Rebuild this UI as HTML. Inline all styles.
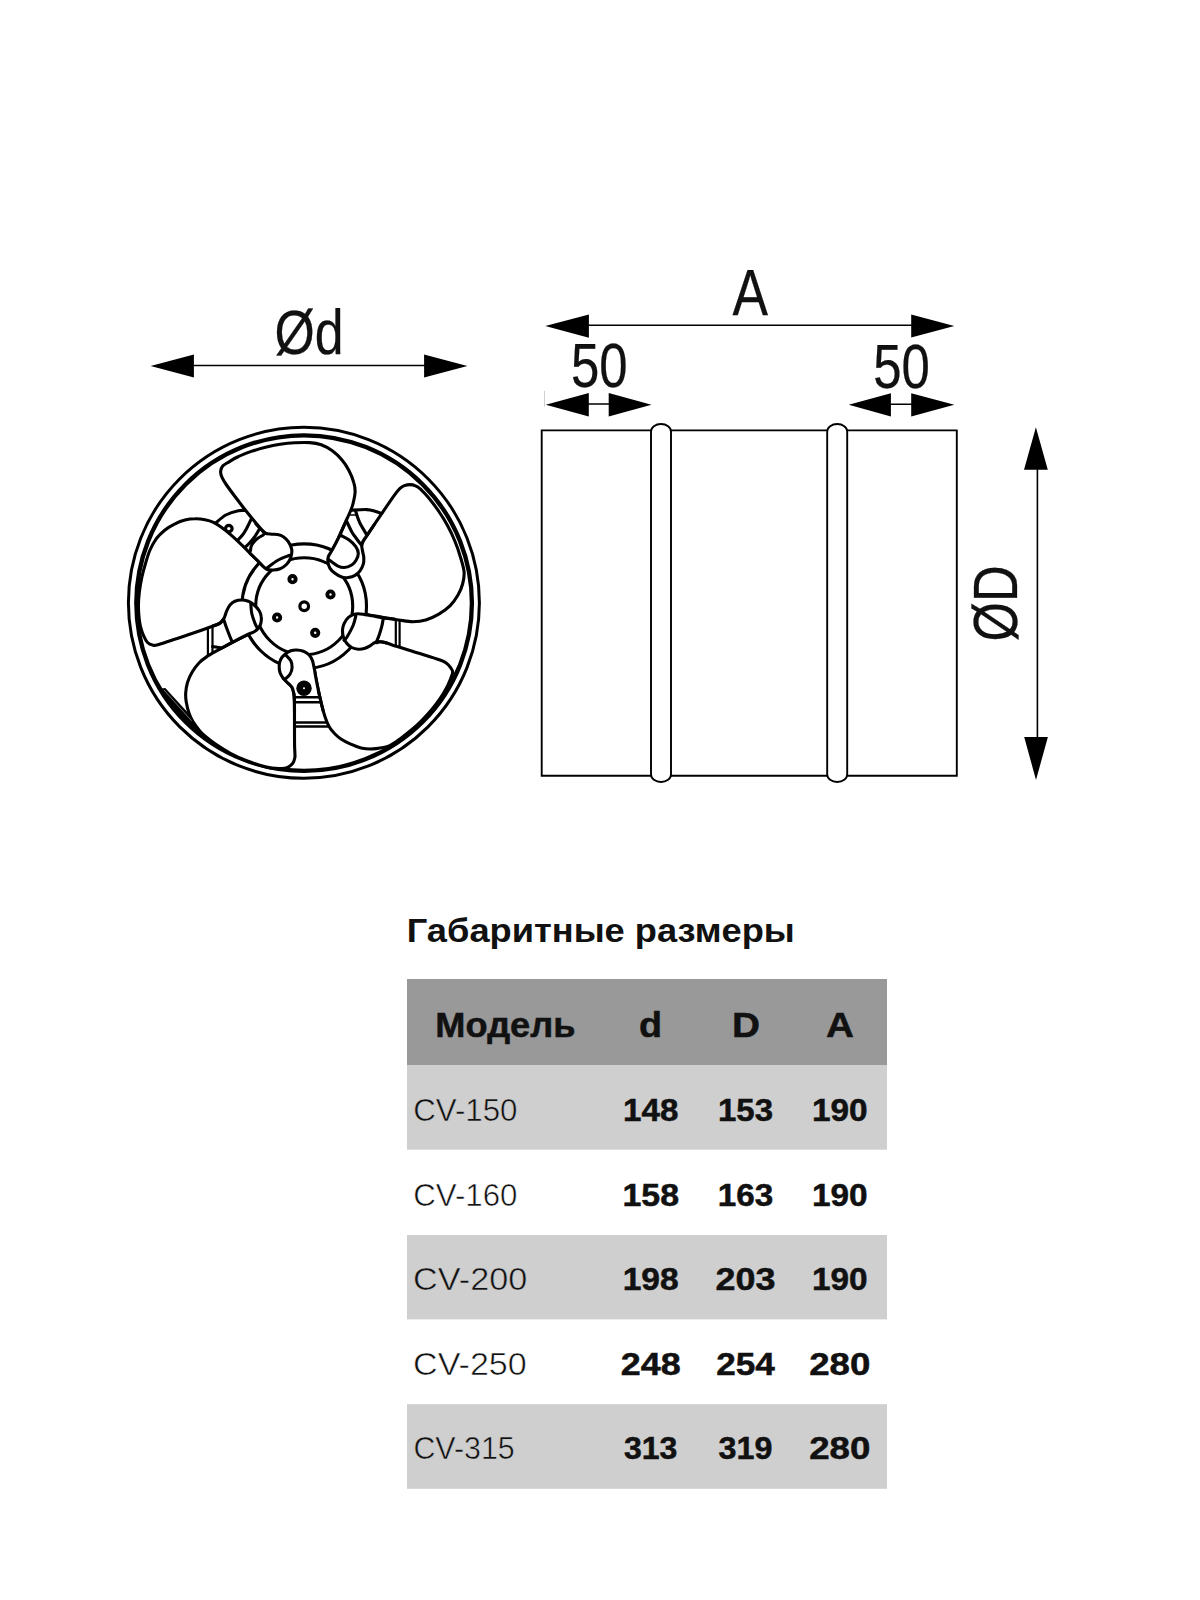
<!DOCTYPE html>
<html><head><meta charset="utf-8">
<style>
html,body{margin:0;padding:0;background:#fff;}
body{width:1200px;height:1600px;overflow:hidden;position:relative;font-family:"Liberation Sans",sans-serif;}
svg{position:absolute;left:0;top:0;}
text{font-family:"Liberation Sans",sans-serif;fill:#111;}
.dim{font-size:63px;fill:#000;stroke:#000;stroke-width:0.25px;}
.b{font-weight:bold;}
</style></head><body>
<svg width="1200" height="1600" viewBox="0 0 1200 1600">
<rect width="1200" height="1600" fill="#fff"/>
<!-- TABLE -->
<g id="table">
<rect x="407" y="979" width="480" height="86" fill="#999"/>
<rect x="407" y="1065.0" width="480" height="84.7" fill="#cfcfcf"/>
<rect x="407" y="1235.0" width="480" height="84.4" fill="#cfcfcf"/>
<rect x="407" y="1404.2" width="480" height="84.6" fill="#cfcfcf"/>
<text class="b" x="406.8" y="941.5" font-size="32.5" textLength="388" lengthAdjust="spacingAndGlyphs">Габаритные размеры</text>
<g class="b" font-size="34.3" text-anchor="middle" stroke="#111" stroke-width="0.5">
<text transform="translate(505.4 1037) scale(1.055 1)">Модель</text>
<text transform="translate(650.5 1037) scale(1.100 1)">d</text>
<text transform="translate(745.9 1037) scale(1.130 1)">D</text>
<text transform="translate(840.1 1037) scale(1.130 1)">A</text>
</g>
<g font-size="31.3">
<text transform="translate(413.3 1120.7) scale(0.998 1)" stroke="#cfcfcf" stroke-width="0.55">CV-150</text>
<text transform="translate(413.3 1205.6) scale(0.998 1)" stroke="#fff" stroke-width="0.55">CV-160</text>
<text transform="translate(413.1 1290.2) scale(1.094 1)" stroke="#cfcfcf" stroke-width="0.55">CV-200</text>
<text transform="translate(413.1 1374.8) scale(1.089 1)" stroke="#fff" stroke-width="0.55">CV-250</text>
<text transform="translate(413.4 1459.4) scale(0.970 1)" stroke="#cfcfcf" stroke-width="0.55">CV-315</text>
</g>
<g class="b" font-size="31.2" text-anchor="middle" stroke="#111" stroke-width="0.5">
<text transform="translate(650.7 1120.7) scale(1.061 1)">148</text>
<text transform="translate(745.5 1120.7) scale(1.056 1)">153</text>
<text transform="translate(839.8 1120.7) scale(1.071 1)">190</text>
<text transform="translate(650.7 1205.6) scale(1.087 1)">158</text>
<text transform="translate(745.5 1205.6) scale(1.066 1)">163</text>
<text transform="translate(839.8 1205.6) scale(1.071 1)">190</text>
<text transform="translate(650.7 1290.2) scale(1.077 1)">198</text>
<text transform="translate(745.5 1290.2) scale(1.150 1)">203</text>
<text transform="translate(839.8 1290.2) scale(1.071 1)">190</text>
<text transform="translate(650.7 1374.8) scale(1.150 1)">248</text>
<text transform="translate(745.5 1374.8) scale(1.127 1)">254</text>
<text transform="translate(839.8 1374.8) scale(1.175 1)">280</text>
<text transform="translate(650.7 1459.4) scale(1.025 1)">313</text>
<text transform="translate(745.5 1459.4) scale(1.035 1)">319</text>
<text transform="translate(839.8 1459.4) scale(1.175 1)">280</text>
</g>
</g>
<!-- SIDE VIEW -->
<g id="side" fill="none" stroke="#000" stroke-width="1.9">
<path d="M651 430.4H541.7V775.8H651 M671 430.4H827.2 M671 775.8H827.2 M847.2 430.4H956.8V775.8H847.2"/>
<path d="M651 774.5V431.5A10 7.5 0 0 1 671 431.5V774.5A10 7.5 0 0 1 651 774.5Z" fill="#fff"/>
<path d="M827.2 774.5V431.5A10 7.5 0 0 1 847.2 431.5V774.5A10 7.5 0 0 1 827.2 774.5Z" fill="#fff"/>
</g>
<!-- DIMENSIONS -->
<g id="dims" stroke="#000" stroke-width="1.6" fill="#000">
<path d="M190 365.5H428 M585 325.2H915 M585 404H612 M888 404.2H915 M1037.4 465V741" fill="none"/>
<g stroke="none">
<path d="M150.6 366L193.9 354.4V377.6Z M467.4 366L424.1 354.4V377.6Z"/>
<path d="M545.3 326.1L588.9 314.4V337.8Z M954.3 326L911.2 314.4V337.6Z"/>
<path d="M545.8 404.8L588.8 393.1V416.5Z M651.5 404.8L608.7 393.1V416.5Z"/>
<path d="M848.7 404.8L890.9 393.2V416.4Z M954.3 404.8L911.2 393.2V416.4Z"/>
<path d="M1035.9 427.3L1024 469.8H1047.8Z M1036 779.9L1024.2 737.1H1047.9Z"/>
</g>
</g>
<path d="M544.5 390.8V406.5" stroke="#c4c4c4" stroke-width="0.8"/>
<g class="dim">
<text x="274.6" y="354" textLength="69" lengthAdjust="spacingAndGlyphs">Ød</text>
<text x="732.4" y="314.8" font-size="65.5" textLength="35.5" lengthAdjust="spacingAndGlyphs">A</text>
<text x="571" y="387.2" textLength="56.6" lengthAdjust="spacingAndGlyphs">50</text>
<text x="873.3" y="387.5" textLength="56.6" lengthAdjust="spacingAndGlyphs">50</text>
<text transform="translate(1016.5 641.5) rotate(-90)" textLength="76" lengthAdjust="spacingAndGlyphs">ØD</text>
</g>
<!-- FAN -->
<g id="fan" fill="none" stroke="#000" stroke-width="3.1" stroke-linecap="round" stroke-linejoin="round">
<g id="back">
<path d="M213.0 526.0C213.4 525.5 213.3 525.1 215.4 523.3C217.5 521.5 222.0 517.1 225.8 515.0C229.6 512.9 234.8 511.4 238.3 510.7C241.8 510.0 245.6 510.6 247.0 510.6"/>
<circle cx="228.8" cy="528.6" r="3.3" stroke-width="3.2"/>
<path d="M252.0 517.5C251.1 519.3 248.3 525.4 246.7 528.3C245.1 531.2 244.3 532.7 242.5 535.0C240.7 537.3 237.1 540.8 236.0 542.0"/>
<path d="M260.0 528.0C259.0 529.6 255.9 535.1 254.2 537.5C252.5 539.9 251.8 540.6 250.0 542.5C248.2 544.4 244.6 547.9 243.5 549.0"/>
<path d="M349.0 510.3C351.9 510.2 362.4 509.4 366.7 509.6C371.0 509.8 372.1 510.4 375.0 511.2C377.9 512.1 382.5 514.0 384.0 514.5"/>
<path d="M395.8 616V650 M399.6 616V650" stroke-width="2.2"/><path d="M350.5 515H355.8" stroke-width="1.6"/>
<path d="M207.9 622V656 M212.5 622V654" stroke-width="2.2"/>
<path d="M212.5 646.5L222 648"/>
<path d="M293 697.3H322 M293 702.3H322 M293 722.5H330 M293 726.5H330" stroke-width="2.6"/>
</g>
<circle cx="303.9" cy="602.8" r="175.5" stroke-width="3"/>
<circle cx="304.1" cy="603.1" r="167.8" stroke-width="4.3"/>
<g id="blades">
<path d="M267.3 534.1C266.4 533.4 265.0 533.3 261.7 529.8C258.4 526.2 251.7 518.0 247.5 512.8C243.3 507.6 240.1 503.2 236.5 498.5C232.9 493.8 228.6 488.0 226.2 484.5C223.8 481.0 222.9 479.5 222.0 477.4C221.1 475.3 220.5 473.6 220.6 471.7C220.7 469.8 221.3 467.8 222.7 466.1C224.1 464.5 226.6 463.3 229.1 461.8C231.6 460.3 233.8 458.7 237.5 457.0C241.2 455.2 246.6 453.1 251.3 451.4C256.0 449.8 260.7 448.4 265.5 447.2C270.3 446.0 275.2 445.0 280.1 444.3C285.0 443.6 289.9 443.1 294.9 442.8C299.8 442.5 305.3 442.3 309.7 442.6C314.1 442.9 317.4 443.4 321.2 444.8C325.0 446.2 328.9 448.3 332.3 450.8C335.7 453.3 339.1 456.5 341.8 459.7C344.6 462.9 346.8 466.4 348.8 470.2C350.8 474.0 352.8 479.0 353.8 482.6C354.9 486.2 355.2 488.6 355.1 492.0C355.0 495.4 353.9 500.0 353.2 503.0C352.5 506.0 352.3 506.6 350.9 510.0C349.5 513.4 347.1 518.6 345.0 523.3C342.9 528.0 340.5 533.7 338.3 538.3C336.1 542.9 332.8 548.7 331.7 550.8L304.2 606.2Z" fill="#fff" stroke="none"/>
<path d="M267.3 534.1C266.4 533.4 265.0 533.3 261.7 529.8C258.4 526.2 251.7 518.0 247.5 512.8C243.3 507.6 240.1 503.2 236.5 498.5C232.9 493.8 228.6 488.0 226.2 484.5C223.8 481.0 222.9 479.5 222.0 477.4C221.1 475.3 220.5 473.6 220.6 471.7C220.7 469.8 221.3 467.8 222.7 466.1C224.1 464.5 226.6 463.3 229.1 461.8C231.6 460.3 233.8 458.7 237.5 457.0C241.2 455.2 246.6 453.1 251.3 451.4C256.0 449.8 260.7 448.4 265.5 447.2C270.3 446.0 275.2 445.0 280.1 444.3C285.0 443.6 289.9 443.1 294.9 442.8C299.8 442.5 305.3 442.3 309.7 442.6C314.1 442.9 317.4 443.4 321.2 444.8C325.0 446.2 328.9 448.3 332.3 450.8C335.7 453.3 339.1 456.5 341.8 459.7C344.6 462.9 346.8 466.4 348.8 470.2C350.8 474.0 352.8 479.0 353.8 482.6C354.9 486.2 355.2 488.6 355.1 492.0C355.0 495.4 353.9 500.0 353.2 503.0C352.5 506.0 352.3 506.6 350.9 510.0C349.5 513.4 347.1 518.6 345.0 523.3C342.9 528.0 340.5 533.7 338.3 538.3C336.1 542.9 332.8 548.7 331.7 550.8"/>
<path d="M361.7 545.0C362.0 544.3 362.5 542.3 363.3 540.8C364.1 539.3 363.6 540.3 366.7 535.8C369.8 531.3 377.0 520.5 381.7 513.6C386.4 506.7 391.9 498.6 395.0 494.4C398.1 490.2 398.4 489.9 400.0 488.4C401.6 486.9 402.7 486.2 404.4 485.6C406.1 485.0 408.1 484.6 410.0 484.6C411.9 484.6 413.8 485.0 415.5 485.8C417.2 486.6 418.3 487.1 420.5 489.2C422.7 491.3 425.9 494.6 429.0 498.3C432.0 502.0 435.8 506.9 438.9 511.5C442.0 516.0 444.9 520.7 447.5 525.6C450.1 530.4 452.5 535.4 454.6 540.5C456.7 545.5 458.6 550.7 460.1 556.0C461.7 561.2 463.7 567.3 464.1 572.0C464.5 576.7 463.6 580.2 462.6 584.0C461.6 587.8 460.1 591.4 458.0 595.0C455.9 598.6 453.4 602.4 450.2 605.6C447.0 608.8 442.9 611.7 438.8 614.1C434.7 616.5 430.1 618.7 425.8 620.0C421.5 621.3 417.3 621.7 412.8 621.7C408.3 621.7 403.8 620.7 398.7 620.0C393.6 619.3 387.9 618.2 382.5 617.3C377.1 616.4 370.5 615.2 366.2 614.6C361.9 614.0 358.1 613.7 356.5 613.5L304.2 606.2Z" fill="#fff" stroke="none"/>
<path d="M361.7 545.0C362.0 544.3 362.5 542.3 363.3 540.8C364.1 539.3 363.6 540.3 366.7 535.8C369.8 531.3 377.0 520.5 381.7 513.6C386.4 506.7 391.9 498.6 395.0 494.4C398.1 490.2 398.4 489.9 400.0 488.4C401.6 486.9 402.7 486.2 404.4 485.6C406.1 485.0 408.1 484.6 410.0 484.6C411.9 484.6 413.8 485.0 415.5 485.8C417.2 486.6 418.3 487.1 420.5 489.2C422.7 491.3 425.9 494.6 429.0 498.3C432.0 502.0 435.8 506.9 438.9 511.5C442.0 516.0 444.9 520.7 447.5 525.6C450.1 530.4 452.5 535.4 454.6 540.5C456.7 545.5 458.6 550.7 460.1 556.0C461.7 561.2 463.7 567.3 464.1 572.0C464.5 576.7 463.6 580.2 462.6 584.0C461.6 587.8 460.1 591.4 458.0 595.0C455.9 598.6 453.4 602.4 450.2 605.6C447.0 608.8 442.9 611.7 438.8 614.1C434.7 616.5 430.1 618.7 425.8 620.0C421.5 621.3 417.3 621.7 412.8 621.7C408.3 621.7 403.8 620.7 398.7 620.0C393.6 619.3 387.9 618.2 382.5 617.3C377.1 616.4 370.5 615.2 366.2 614.6C361.9 614.0 358.1 613.7 356.5 613.5"/>
<path d="M376.5 642.7C377.1 642.5 378.3 641.7 380.0 641.7C381.7 641.7 384.0 642.1 386.7 642.9C389.4 643.7 391.1 644.6 396.3 646.3C401.5 648.0 410.7 650.7 418.0 653.0C425.3 655.3 435.2 658.3 440.0 660.0C444.8 661.7 444.8 662.0 446.5 663.2C448.2 664.4 449.4 665.9 450.4 667.4C451.4 668.9 452.7 670.1 452.7 672.1C452.7 674.0 451.4 676.5 450.4 679.2C449.3 682.0 447.9 685.3 446.2 688.5C444.5 691.7 442.6 694.9 440.2 698.4C437.8 701.9 434.8 705.9 431.8 709.5C428.8 713.0 425.7 716.5 422.4 719.8C419.2 723.1 415.8 726.3 412.3 729.3C408.7 732.3 405.1 735.2 401.3 737.9C397.6 740.6 393.9 743.8 389.7 745.6C385.5 747.3 380.6 748.1 376.0 748.6C371.4 749.1 366.7 749.1 362.3 748.3C357.9 747.5 353.2 745.1 349.6 743.6C346.1 742.1 343.4 740.6 341.0 739.0C338.6 737.4 337.0 736.0 335.0 734.0C333.0 732.0 330.9 729.6 329.2 726.7C327.5 723.8 326.2 720.3 325.0 716.7C323.8 713.1 322.8 709.5 321.7 705.0C320.6 700.5 319.3 694.6 318.3 690.0C317.3 685.4 316.5 681.1 315.8 677.5C315.1 673.9 314.7 670.9 314.2 668.3C313.7 665.7 313.1 663.0 312.9 662.0L304.2 606.2Z" fill="#fff" stroke="none"/>
<path d="M376.5 642.7C377.1 642.5 378.3 641.7 380.0 641.7C381.7 641.7 384.0 642.1 386.7 642.9C389.4 643.7 391.1 644.6 396.3 646.3C401.5 648.0 410.7 650.7 418.0 653.0C425.3 655.3 435.2 658.3 440.0 660.0C444.8 661.7 444.8 662.0 446.5 663.2C448.2 664.4 449.4 665.9 450.4 667.4C451.4 668.9 452.7 670.1 452.7 672.1C452.7 674.0 451.4 676.5 450.4 679.2C449.3 682.0 447.9 685.3 446.2 688.5C444.5 691.7 442.6 694.9 440.2 698.4C437.8 701.9 434.8 705.9 431.8 709.5C428.8 713.0 425.7 716.5 422.4 719.8C419.2 723.1 415.8 726.3 412.3 729.3C408.7 732.3 405.1 735.2 401.3 737.9C397.6 740.6 393.9 743.8 389.7 745.6C385.5 747.3 380.6 748.1 376.0 748.6C371.4 749.1 366.7 749.1 362.3 748.3C357.9 747.5 353.2 745.1 349.6 743.6C346.1 742.1 343.4 740.6 341.0 739.0C338.6 737.4 337.0 736.0 335.0 734.0C333.0 732.0 330.9 729.6 329.2 726.7C327.5 723.8 326.2 720.3 325.0 716.7C323.8 713.1 322.8 709.5 321.7 705.0C320.6 700.5 319.3 694.6 318.3 690.0C317.3 685.4 316.5 681.1 315.8 677.5C315.1 673.9 314.7 670.9 314.2 668.3C313.7 665.7 313.1 663.0 312.9 662.0"/>
<path d="M283.3 678.3C284.1 679.1 286.8 681.8 288.3 683.3C289.8 684.8 291.2 685.8 292.1 687.5C293.0 689.2 293.4 691.0 293.8 693.3C294.1 695.5 294.3 696.0 294.4 701.0C294.5 706.0 294.5 715.8 294.5 723.3C294.5 730.8 294.5 741.0 294.6 746.0C294.7 751.0 294.9 751.0 294.9 753.0C294.9 755.0 295.2 756.2 294.8 758.0C294.4 759.8 293.8 762.0 292.6 763.5C291.4 765.0 289.4 766.5 287.6 767.3C285.8 768.1 284.6 768.4 282.0 768.5C279.4 768.6 275.6 768.6 272.0 768.1C268.5 767.6 264.8 766.8 260.6 765.6C256.3 764.3 251.7 762.8 246.7 760.8C241.7 758.8 235.9 756.2 230.8 753.5C225.6 750.7 220.2 747.4 215.8 744.4C211.4 741.4 207.1 737.9 204.3 735.5C201.5 733.2 201.0 732.5 199.2 730.3C197.4 728.1 195.0 724.9 193.3 722.2C191.7 719.5 190.5 717.3 189.3 714.0C188.1 710.7 186.9 705.8 186.3 702.3C185.7 698.8 185.5 696.3 185.7 693.0C185.9 689.7 186.4 686.0 187.5 682.5C188.6 679.0 190.2 675.3 192.2 672.0C194.1 668.7 196.7 665.3 199.2 662.7C201.7 660.1 204.8 658.0 207.3 656.3C209.8 654.5 210.0 654.6 214.3 652.2C218.6 649.8 227.9 644.8 233.3 641.9C238.7 639.0 243.6 636.5 246.7 635.0C249.8 633.5 250.9 633.3 251.7 633.0L304.2 606.2Z" fill="#fff" stroke="none"/>
<path d="M283.3 678.3C284.1 679.1 286.8 681.8 288.3 683.3C289.8 684.8 291.2 685.8 292.1 687.5C293.0 689.2 293.4 691.0 293.8 693.3C294.1 695.5 294.3 696.0 294.4 701.0C294.5 706.0 294.5 715.8 294.5 723.3C294.5 730.8 294.5 741.0 294.6 746.0C294.7 751.0 294.9 751.0 294.9 753.0C294.9 755.0 295.2 756.2 294.8 758.0C294.4 759.8 293.8 762.0 292.6 763.5C291.4 765.0 289.4 766.5 287.6 767.3C285.8 768.1 284.6 768.4 282.0 768.5C279.4 768.6 275.6 768.6 272.0 768.1C268.5 767.6 264.8 766.8 260.6 765.6C256.3 764.3 251.7 762.8 246.7 760.8C241.7 758.8 235.9 756.2 230.8 753.5C225.6 750.7 220.2 747.4 215.8 744.4C211.4 741.4 207.1 737.9 204.3 735.5C201.5 733.2 201.0 732.5 199.2 730.3C197.4 728.1 195.0 724.9 193.3 722.2C191.7 719.5 190.5 717.3 189.3 714.0C188.1 710.7 186.9 705.8 186.3 702.3C185.7 698.8 185.5 696.3 185.7 693.0C185.9 689.7 186.4 686.0 187.5 682.5C188.6 679.0 190.2 675.3 192.2 672.0C194.1 668.7 196.7 665.3 199.2 662.7C201.7 660.1 204.8 658.0 207.3 656.3C209.8 654.5 210.0 654.6 214.3 652.2C218.6 649.8 227.9 644.8 233.3 641.9C238.7 639.0 243.6 636.5 246.7 635.0C249.8 633.5 250.9 633.3 251.7 633.0"/>
<path d="M223.8 618.8C223.1 619.5 221.9 621.9 220.0 623.1C218.1 624.4 217.9 624.3 212.5 626.2C207.1 628.2 196.5 632.0 187.5 635.0C178.5 638.0 164.6 642.7 158.8 644.4C152.9 646.1 154.4 645.3 152.5 645.0C150.6 644.7 149.0 644.0 147.5 642.5C146.0 641.0 144.9 638.7 143.8 636.2C142.6 633.8 141.5 630.4 140.7 627.5C140.0 624.6 139.5 622.6 139.2 619.0C138.8 615.4 138.4 610.6 138.4 606.0C138.5 601.4 138.8 596.3 139.4 591.6C140.0 586.8 140.8 582.1 141.8 577.4C142.8 572.7 144.1 568.1 145.5 563.5C146.8 559.0 148.2 554.1 150.0 550.0C151.8 545.9 153.8 542.1 156.2 538.8C158.8 535.4 161.9 532.5 165.0 530.0C168.1 527.5 171.7 525.4 175.0 523.8C178.3 522.1 181.7 520.8 185.0 520.0C188.3 519.2 191.7 518.8 195.0 518.8C198.3 518.7 201.9 519.1 205.0 519.7C208.1 520.3 210.7 521.0 213.5 522.3C216.3 523.6 218.9 525.4 221.7 527.4C224.4 529.4 227.2 531.7 230.0 534.1C232.8 536.5 235.8 539.2 238.3 541.6C240.8 544.0 241.7 544.9 245.0 548.2C248.3 551.5 256.1 559.2 258.3 561.4L304.2 606.2Z" fill="#fff" stroke="none"/>
<path d="M223.8 618.8C223.1 619.5 221.9 621.9 220.0 623.1C218.1 624.4 217.9 624.3 212.5 626.2C207.1 628.2 196.5 632.0 187.5 635.0C178.5 638.0 164.6 642.7 158.8 644.4C152.9 646.1 154.4 645.3 152.5 645.0C150.6 644.7 149.0 644.0 147.5 642.5C146.0 641.0 144.9 638.7 143.8 636.2C142.6 633.8 141.5 630.4 140.7 627.5C140.0 624.6 139.5 622.6 139.2 619.0C138.8 615.4 138.4 610.6 138.4 606.0C138.5 601.4 138.8 596.3 139.4 591.6C140.0 586.8 140.8 582.1 141.8 577.4C142.8 572.7 144.1 568.1 145.5 563.5C146.8 559.0 148.2 554.1 150.0 550.0C151.8 545.9 153.8 542.1 156.2 538.8C158.8 535.4 161.9 532.5 165.0 530.0C168.1 527.5 171.7 525.4 175.0 523.8C178.3 522.1 181.7 520.8 185.0 520.0C188.3 519.2 191.7 518.8 195.0 518.8C198.3 518.7 201.9 519.1 205.0 519.7C208.1 520.3 210.7 521.0 213.5 522.3C216.3 523.6 218.9 525.4 221.7 527.4C224.4 529.4 227.2 531.7 230.0 534.1C232.8 536.5 235.8 539.2 238.3 541.6C240.8 544.0 241.7 544.9 245.0 548.2C248.3 551.5 256.1 559.2 258.3 561.4"/>
</g>
<path d="M161.5 688.5 L165.3 688.0 L189.8 714.8 L193.3 722.2 L199.2 730.3 L198.3 731.4 L189.8 723.9 L181.8 715.8 L174.4 707.2 L167.6 698.1 L161.4 688.5Z" fill="#000" stroke="none"/>
<path d="M164.2 690.2L191.3 720.5" stroke="#e8e8e8" stroke-width="0.5"/>
<circle cx="304.2" cy="606.2" r="62.3" fill="#fff"/>
<circle cx="304.2" cy="606.2" r="48.5"/>
<g id="knobs">
<path d="M261.7 530.0C262.2 530.5 263.3 532.6 265.0 533.3C266.7 534.0 269.6 534.0 271.7 534.2C273.8 534.4 275.6 534.2 277.5 534.6C279.4 535.0 281.5 535.5 283.3 536.7C285.1 537.9 286.9 539.6 288.3 541.7C289.7 543.8 291.3 546.6 291.7 549.2C292.1 551.8 291.6 555.0 290.8 557.5C290.0 560.0 288.5 562.3 286.7 564.2C284.9 566.1 282.2 567.8 280.0 568.8C277.8 569.7 275.5 569.9 273.3 570.0C271.1 570.1 268.6 570.0 266.7 569.2C264.8 568.4 263.1 566.3 261.7 565.0C260.3 563.7 258.9 561.8 258.3 561.2L250.4 551.0C250.6 550.0 250.6 547.0 251.7 545.0C252.8 543.0 254.8 540.9 256.7 539.2C258.6 537.5 262.2 535.7 263.3 535.0Z" fill="#fff" stroke="none"/>
<path d="M256.0 524.0C256.9 525.0 260.2 528.5 261.7 530.0C263.2 531.5 263.3 532.6 265.0 533.3C266.7 534.0 269.6 534.0 271.7 534.2C273.8 534.4 275.6 534.2 277.5 534.6C279.4 535.0 281.5 535.5 283.3 536.7C285.1 537.9 286.9 539.6 288.3 541.7C289.7 543.8 291.3 546.6 291.7 549.2C292.1 551.8 291.6 555.0 290.8 557.5C290.0 560.0 288.5 562.3 286.7 564.2C284.9 566.1 282.2 567.8 280.0 568.8C277.8 569.7 275.5 569.9 273.3 570.0C271.1 570.1 268.6 570.0 266.7 569.2C264.8 568.4 263.1 566.3 261.7 565.0C260.3 563.7 260.2 563.2 258.3 561.2C256.4 559.2 251.4 554.6 250.0 553.3"/>
<path d="M263.3 535.0C262.2 535.7 258.6 537.5 256.7 539.2C254.8 540.9 252.8 543.0 251.7 545.0C250.6 547.0 250.6 550.0 250.4 551.0"/>
<path d="M338.3 538.3C337.2 540.4 333.4 547.7 331.7 550.8C330.0 553.9 328.9 554.9 328.3 556.7C327.7 558.5 327.6 559.8 327.9 561.7C328.2 563.6 328.8 566.4 330.0 568.3C331.2 570.2 333.1 571.8 335.0 573.3C336.9 574.8 339.5 576.4 341.7 577.1C343.9 577.8 346.1 577.8 348.3 577.5C350.5 577.2 353.1 576.5 355.0 575.4C356.9 574.3 358.6 572.7 360.0 570.8C361.4 568.9 362.7 566.4 363.3 564.2C363.9 562.0 363.9 559.7 363.8 557.5C363.6 555.3 362.8 552.9 362.5 550.8C362.2 548.7 361.6 546.7 361.7 545.0C361.8 543.3 362.5 542.3 363.3 540.8C364.1 539.3 366.1 536.6 366.7 535.8Z" fill="#fff" stroke="none"/>
<path d="M345.0 523.3C343.9 525.8 340.5 533.7 338.3 538.3C336.1 542.9 333.4 547.7 331.7 550.8C330.0 553.9 328.9 554.9 328.3 556.7C327.7 558.5 327.6 559.8 327.9 561.7C328.2 563.6 328.8 566.4 330.0 568.3C331.2 570.2 333.1 571.8 335.0 573.3C336.9 574.8 339.5 576.4 341.7 577.1C343.9 577.8 346.1 577.8 348.3 577.5C350.5 577.2 353.1 576.5 355.0 575.4C356.9 574.3 358.6 572.7 360.0 570.8C361.4 568.9 362.7 566.4 363.3 564.2C363.9 562.0 363.9 559.7 363.8 557.5C363.6 555.3 362.8 552.9 362.5 550.8C362.2 548.7 361.6 546.7 361.7 545.0C361.8 543.3 362.5 542.3 363.3 540.8C364.1 539.3 364.9 538.4 366.7 535.8C368.5 533.2 372.8 526.8 374.0 525.0"/>
<path d="M383.3 617.9C381.4 617.5 374.8 616.3 371.7 615.8C368.6 615.2 367.2 614.9 365.0 614.6C362.8 614.3 360.2 613.8 358.3 613.8C356.4 613.8 355.0 614.0 353.3 614.6C351.6 615.2 349.8 616.0 348.3 617.5C346.8 619.0 345.2 621.2 344.2 623.3C343.2 625.4 342.6 627.8 342.5 630.0C342.4 632.2 342.6 634.5 343.3 636.7C344.0 638.9 345.3 641.5 346.7 643.3C348.1 645.1 349.8 646.5 351.7 647.5C353.6 648.5 356.1 649.1 358.3 649.2C360.5 649.3 363.1 648.9 365.0 648.3C366.9 647.7 368.3 646.8 370.0 645.8C371.7 644.8 374.2 643.0 375.0 642.5L376.7 641.2C377.1 640.2 378.4 637.4 379.2 635.0C380.0 632.6 381.0 629.5 381.7 626.7C382.4 624.0 383.0 619.9 383.3 618.5Z" fill="#fff" stroke="none"/>
<path d="M395.0 619.2C393.1 619.0 387.2 618.5 383.3 617.9C379.4 617.3 374.8 616.3 371.7 615.8C368.6 615.2 367.2 614.9 365.0 614.6C362.8 614.3 360.2 613.8 358.3 613.8C356.4 613.8 355.0 614.0 353.3 614.6C351.6 615.2 349.8 616.0 348.3 617.5C346.8 619.0 345.2 621.2 344.2 623.3C343.2 625.4 342.6 627.8 342.5 630.0C342.4 632.2 342.6 634.5 343.3 636.7C344.0 638.9 345.3 641.5 346.7 643.3C348.1 645.1 349.8 646.5 351.7 647.5C353.6 648.5 356.1 649.1 358.3 649.2C360.5 649.3 363.1 648.9 365.0 648.3C366.9 647.7 368.3 646.8 370.0 645.8C371.7 644.8 373.3 643.2 375.0 642.5C376.7 641.8 378.1 641.6 380.0 641.7C381.9 641.8 385.6 642.7 386.7 642.9"/>
<path d="M383.3 618.5C383.0 619.9 382.4 624.0 381.7 626.7C381.0 629.5 380.0 632.6 379.2 635.0C378.4 637.4 377.1 640.2 376.7 641.2"/>
<path d="M293.8 693.3C293.5 692.3 293.0 689.2 292.1 687.5C291.2 685.8 289.8 684.8 288.3 683.3C286.8 681.8 284.7 680.1 283.3 678.3C281.9 676.5 280.7 674.6 280.0 672.5C279.3 670.4 279.1 668.0 279.2 665.8C279.3 663.6 279.8 661.1 280.8 659.2C281.8 657.3 283.3 655.6 285.0 654.2C286.7 652.8 288.9 651.5 290.8 650.8C292.8 650.1 294.6 649.9 296.7 650.0C298.8 650.1 301.2 650.4 303.3 651.2C305.4 652.1 307.7 653.4 309.2 655.0C310.7 656.6 311.7 658.6 312.5 660.8C313.3 663.0 313.6 665.5 314.2 668.3C314.8 671.1 315.1 673.9 315.8 677.5C316.5 681.1 317.9 687.9 318.3 690.0Z" fill="#fff" stroke="none"/>
<path d="M294.5 712.0C294.5 710.2 294.5 704.1 294.4 701.0C294.3 697.9 294.1 695.5 293.8 693.3C293.4 691.0 293.0 689.2 292.1 687.5C291.2 685.8 289.8 684.8 288.3 683.3C286.8 681.8 284.7 680.1 283.3 678.3C281.9 676.5 280.7 674.6 280.0 672.5C279.3 670.4 279.1 668.0 279.2 665.8C279.3 663.6 279.8 661.1 280.8 659.2C281.8 657.3 283.3 655.6 285.0 654.2C286.7 652.8 288.9 651.5 290.8 650.8C292.8 650.1 294.6 649.9 296.7 650.0C298.8 650.1 301.2 650.4 303.3 651.2C305.4 652.1 307.7 653.4 309.2 655.0C310.7 656.6 311.7 658.6 312.5 660.8C313.3 663.0 313.6 665.5 314.2 668.3C314.8 671.1 315.1 673.9 315.8 677.5C316.5 681.1 317.3 685.4 318.3 690.0C319.3 694.6 320.9 701.5 321.7 705.0C322.5 708.5 323.0 710.0 323.3 711.0"/>
<path d="M223.8 618.8C224.0 618.3 224.5 617.1 225.0 615.8C225.5 614.5 225.9 612.6 226.7 610.8C227.5 609.0 228.6 606.6 230.0 605.0C231.4 603.4 233.1 602.1 235.0 601.2C236.9 600.4 239.5 600.0 241.7 600.0C243.9 600.0 246.2 600.4 248.3 601.2C250.4 602.1 252.4 603.4 254.2 605.0C256.0 606.6 258.0 608.8 259.2 610.8C260.4 612.8 261.0 614.6 261.2 616.7C261.5 618.8 261.3 621.4 260.8 623.3C260.3 625.2 259.4 626.9 258.3 628.3C257.2 629.7 255.5 630.9 254.2 631.7C252.9 632.5 251.8 632.8 250.5 633.3C249.2 633.8 249.6 633.6 246.7 635.0C243.8 636.4 235.5 640.8 233.3 641.9L232.3 642.0C231.9 641.1 230.9 639.0 230.0 636.7C229.1 634.4 227.7 630.9 226.7 628.3C225.7 625.6 224.6 622.0 224.2 620.8Z" fill="#fff" stroke="none"/>
<path d="M212.5 626.2C213.8 625.7 218.1 624.4 220.0 623.1C221.9 621.9 222.9 620.0 223.8 618.8C224.6 617.5 224.5 617.1 225.0 615.8C225.5 614.5 225.9 612.6 226.7 610.8C227.5 609.0 228.6 606.6 230.0 605.0C231.4 603.4 233.1 602.1 235.0 601.2C236.9 600.4 239.5 600.0 241.7 600.0C243.9 600.0 246.2 600.4 248.3 601.2C250.4 602.1 252.4 603.4 254.2 605.0C256.0 606.6 258.0 608.8 259.2 610.8C260.4 612.8 261.0 614.6 261.2 616.7C261.5 618.8 261.3 621.4 260.8 623.3C260.3 625.2 259.4 626.9 258.3 628.3C257.2 629.7 255.5 630.9 254.2 631.7C252.9 632.5 251.8 632.8 250.5 633.3C249.2 633.8 249.6 633.6 246.7 635.0C243.8 636.4 237.4 639.7 233.3 641.9C229.2 644.1 223.9 647.0 222.0 648.0"/>
<path d="M224.2 620.8C224.6 622.0 225.7 625.6 226.7 628.3C227.7 630.9 229.1 634.4 230.0 636.7C230.9 639.0 231.9 641.1 232.3 642.0"/>
</g>
<g id="kd">
<path d="M355.6 511.0C355.9 512.0 356.8 515.0 357.5 517.0C358.2 519.0 358.6 520.5 360.0 523.3C361.4 526.1 365.2 532.2 366.2 534.0"/>
<path d="M346.3 520.5C347.2 522.4 350.1 528.8 351.7 531.7C353.3 534.6 354.4 535.8 356.0 538.0C357.6 540.2 360.3 543.7 361.2 544.8"/>
<path d="M340.8 535.4C342.2 536.2 346.7 538.1 349.2 540.0C351.7 541.9 354.3 544.5 355.8 546.7C357.3 548.9 358.2 551.1 358.3 553.3C358.4 555.5 357.4 558.0 356.2 560.0C355.1 562.0 353.7 563.8 351.7 565.0C349.7 566.2 346.6 567.4 344.2 567.5C341.8 567.6 340.0 567.0 337.5 565.8C335.0 564.5 330.6 561.0 329.2 560.0"/>
<path d="M267.5 567.5C269.3 566.2 274.7 562.0 278.3 560.0C281.9 558.0 287.4 556.2 289.2 555.4"/>
<path d="M355.8 615.8C355.4 617.3 354.8 621.4 353.3 625.0C351.8 628.6 348.2 635.0 346.7 637.5C345.1 640.0 344.4 639.8 344.0 640.3"/>
<path d="M285.8 655.0C286.6 656.0 289.8 658.7 290.8 660.8C291.9 662.9 292.2 665.3 292.1 667.5C292.0 669.7 291.2 672.2 290.0 674.2C288.8 676.2 285.8 678.4 285.0 679.2"/>
<path d="M250.8 603.3C251.0 605.0 251.0 610.0 251.7 613.3C252.4 616.6 254.0 620.8 255.0 623.3C256.0 625.8 257.1 627.5 257.5 628.3"/>
</g>
<circle cx="304" cy="688.3" r="7.7" fill="#000" stroke="none"/><circle cx="304" cy="688.3" r="1" fill="#fff" stroke="none"/>
<circle cx="292.5" cy="579.2" r="3.15" stroke-width="3.9"/>
<circle cx="330.5" cy="594.5" r="3.15" stroke-width="3.9"/>
<circle cx="277.1" cy="617.5" r="3.15" stroke-width="3.9"/>
<circle cx="315.2" cy="632.8" r="3.15" stroke-width="3.9"/>
<circle cx="304.2" cy="606.2" r="4.35" stroke-width="3.2"/>
</g>
</svg>
</body></html>
